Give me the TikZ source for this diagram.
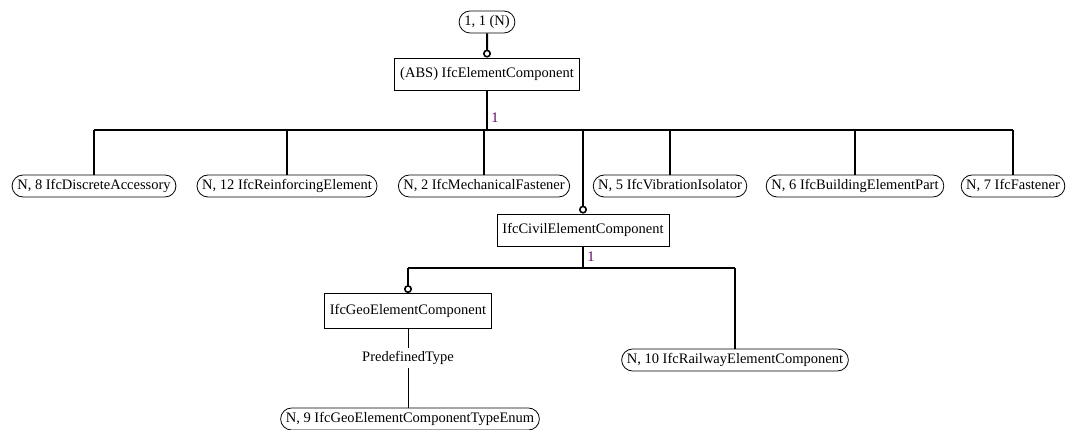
\documentclass[tikz,border=0pt]{standalone}
\usepackage{fontspec}
\setmainfont{Liberation Serif}
\usetikzlibrary{arrows.meta, shapes.misc}
\definecolor{labelpurple}{rgb}{0.4, 0, 0.4}

\begin{document}
\begin{tikzpicture}[x=1pt, y=-1pt, >=Stealth,
    entity/.style={draw, rectangle, fill=white, line width=0.8pt,
        inner xsep=5.5pt, minimum height=32pt,
        font=\fontsize{14.5}{17}\selectfont},
    refnode/.style={draw, rounded rectangle, fill=white, line width=0.8pt,
        inner xsep=3pt, inner ysep=1pt, minimum height=22pt,
        font=\fontsize{14.5}{17}\selectfont},
    tree/.style={line width=2pt},
    ring/.style={-{Circle[open, length=8pt, line width=1.6pt]}},
    card/.style={text=labelpurple, font=\fontsize{14.5}{17}\selectfont}]
    \useasboundingbox (0, 0) rectangle (1067, 430);
    % top
    \node[refnode] (count) at (487, 22) {1, 1 (N)};
    \node[entity] (elem) at (487, 74) {(ABS) IfcElementComponent};
    \draw[tree, ring] (count) -- (elem);
    % first level
    \coordinate (busA) at (487, 130);
    \node[refnode] (discrete) at (94, 186) {N, 8 IfcDiscreteAccessory};
    \node[refnode] (reinf) at (287, 186) {N, 12 IfcReinforcingElement};
    \node[refnode] (mech) at (484, 186) {N, 2 IfcMechanicalFastener};
    \node[refnode] (vib) at (670, 186) {N, 5 IfcVibrationIsolator};
    \node[refnode] (bldg) at (855, 186) {N, 6 IfcBuildingElementPart};
    \node[refnode] (fast) at (1013, 186) {N, 7 IfcFastener};
    \node[entity] (civil) at (583, 230) {IfcCivilElementComponent};
    \draw[tree] (elem.south) -- node[card, pos=0.7, right] {1} (elem.south |- busA);
    \draw[tree] (discrete.north |- busA) -- (fast.north |- busA);
    \foreach \n in {discrete, reinf, mech, vib, bldg, fast}
        \draw[tree] (\n.north |- busA) -- (\n.north);
    \draw[tree, ring] (civil.north |- busA) -- (civil.north);
    % civil level
    \coordinate (busB) at (583, 268);
    \node[entity, minimum height=35pt] (geo) at (408, 311) {IfcGeoElementComponent};
    \node[refnode] (rail) at (735, 360) {N, 10 IfcRailwayElementComponent};
    \node[refnode] (geoenum) at (410, 419) {N, 9 IfcGeoElementComponentTypeEnum};
    \draw[tree] (civil.south) -- node[card, right] {1} (civil.south |- busB);
    \draw[tree] (geo.north |- busB) -- (rail.north |- busB);
    \draw[tree, ring] (geo.north |- busB) -- (geo.north);
    \draw[tree] (rail.north |- busB) -- (rail.north);
    % attribute
    \draw[line width=0.8pt] (geo.south) -- node[pos=0.37, fill=white,
        font=\fontsize{14.5}{17}\selectfont] {PredefinedType} (geo.south |- geoenum.north);
\end{tikzpicture}
\end{document}
